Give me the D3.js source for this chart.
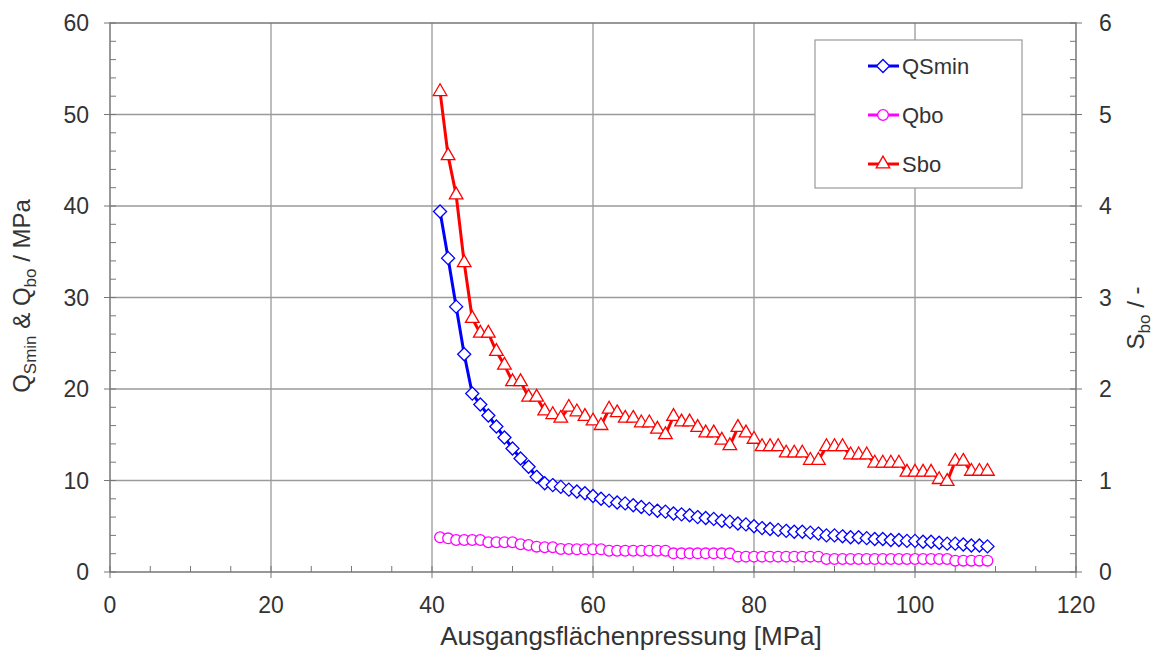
<!DOCTYPE html>
<html>
<head>
<meta charset="utf-8">
<script src="https://cdn.jsdelivr.net/npm/d3@7"></script>
<style>
  body { margin: 0; background: #fff; }
  text { font-family: "Liberation Sans", Arial, sans-serif; fill: #333; }
</style>
</head>
<body>
<div id="chart"></div>
<script>
let width = 1160,
  height = 653,
  margin = { left: 110, right: 84, top: 23, bottom: 81 }

// x values: Ausgangsflächenpressung in MPa
let pressure = d3.range(41, 110)

let qsmin = [39.4, 34.3, 29.0, 23.8, 19.5, 18.3, 17.1, 15.9, 14.7, 13.5,
  12.4, 11.5, 10.4, 9.7, 9.5, 9.3, 9.0, 8.8, 8.6, 8.3,
  8.0, 7.8, 7.6, 7.5, 7.3, 7.1, 6.9, 6.7, 6.6, 6.4,
  6.3, 6.2, 6.0, 5.9, 5.8, 5.6, 5.5, 5.3, 5.2, 5.0,
  4.8, 4.7, 4.6, 4.5, 4.4, 4.4, 4.3, 4.2, 4.0, 4.0,
  3.9, 3.8, 3.8, 3.7, 3.6, 3.6, 3.5, 3.5, 3.4, 3.4,
  3.3, 3.3, 3.2, 3.1, 3.1, 3.0, 2.9, 2.9, 2.8]

let qbo = [3.79, 3.68, 3.5, 3.5, 3.5, 3.5, 3.25, 3.25, 3.25, 3.25,
  3.03, 2.95, 2.77, 2.7, 2.7, 2.51, 2.51, 2.48, 2.48, 2.48,
  2.48, 2.33, 2.33, 2.33, 2.33, 2.33, 2.33, 2.33, 2.33, 2.04,
  2.04, 2.04, 2.04, 2.04, 2.04, 2.04, 2.04, 1.68, 1.68, 1.68,
  1.68, 1.68, 1.68, 1.68, 1.68, 1.68, 1.68, 1.68, 1.42, 1.42,
  1.42, 1.42, 1.42, 1.42, 1.42, 1.42, 1.42, 1.42, 1.42, 1.42,
  1.42, 1.42, 1.42, 1.42, 1.24, 1.24, 1.24, 1.24, 1.24]

let sbo = [5.25, 4.55, 4.12, 3.38, 2.77, 2.61, 2.61, 2.41, 2.26, 2.08,
  2.08, 1.91, 1.91, 1.76, 1.72, 1.68, 1.80, 1.75, 1.70, 1.65,
  1.60, 1.78, 1.74, 1.68, 1.68, 1.63, 1.63, 1.56, 1.50, 1.70,
  1.64, 1.64, 1.58, 1.52, 1.52, 1.44, 1.38, 1.58, 1.52, 1.45,
  1.37, 1.37, 1.37, 1.30, 1.30, 1.30, 1.22, 1.22, 1.37, 1.37,
  1.37, 1.28, 1.28, 1.28, 1.19, 1.19, 1.19, 1.19, 1.09, 1.09,
  1.09, 1.09, 1.01, 0.99, 1.21, 1.21, 1.10, 1.10, 1.10]

let xTicks = [0, 20, 40, 60, 80, 100, 120]
let yTicks = [0, 10, 20, 30, 40, 50, 60]
let y2Ticks = [0, 1, 2, 3, 4, 5, 6]

let svg = d3.select('#chart').append('svg')
  .attr('width', width)
  .attr('height', height)

let x = d3.scaleLinear().domain([0, 120]).range([margin.left, width - margin.right])
let y = d3.scaleLinear().domain([0, 60]).range([height - margin.bottom, margin.top])
let y2 = d3.scaleLinear().domain([0, 6]).range([height - margin.bottom, margin.top])

let x0 = x.range()[0], x1 = x.range()[1], yb = y.range()[0], yt = y.range()[1]

// grid
svg.append('g').selectAll('line')
  .data(xTicks.slice(1, -1))
  .enter().append('line')
  .attr('x1', d => x(d)).attr('x2', d => x(d))
  .attr('y1', yt).attr('y2', yb)
  .attr('stroke', '#9a9a9a').attr('stroke-width', 1.3)

svg.append('g').selectAll('line')
  .data(yTicks.slice(1, -1))
  .enter().append('line')
  .attr('x1', x0).attr('x2', x1)
  .attr('y1', d => y(d)).attr('y2', d => y(d))
  .attr('stroke', '#9a9a9a').attr('stroke-width', 1.3)

// minor ticks (inward), major ones cross the frame
let tickColor = '#777'
svg.append('g').selectAll('line')
  .data(d3.range(0, 121, 5))
  .enter().append('line')
  .attr('x1', d => x(d)).attr('x2', d => x(d))
  .attr('y1', yb - 6).attr('y2', d => d % 20 === 0 ? yb + 6 : yb)
  .attr('stroke', tickColor).attr('stroke-width', 1)

svg.append('g').selectAll('line')
  .data(d3.range(0, 61, 2))
  .enter().append('line')
  .attr('x1', d => d % 10 === 0 ? x0 - 6 : x0).attr('x2', x0 + 6)
  .attr('y1', d => y(d)).attr('y2', d => y(d))
  .attr('stroke', tickColor).attr('stroke-width', 1)

svg.append('g').selectAll('line')
  .data(d3.range(0, 31).map(d => d / 5))
  .enter().append('line')
  .attr('x1', x1 - 6).attr('x2', d => Math.abs(d - Math.round(d)) < 1e-9 ? x1 + 6 : x1)
  .attr('y1', d => y2(d)).attr('y2', d => y2(d))
  .attr('stroke', tickColor).attr('stroke-width', 1)

// frame
svg.append('rect')
  .attr('x', x0).attr('y', yt)
  .attr('width', x1 - x0).attr('height', yb - yt)
  .attr('fill', 'none').attr('stroke', '#777').attr('stroke-width', 1.5)

// tick labels
svg.append('g').selectAll('text')
  .data(xTicks).enter().append('text')
  .attr('x', d => x(d)).attr('y', yb + 41)
  .attr('text-anchor', 'middle').attr('font-size', 23)
  .text(d => d)

svg.append('g').selectAll('text')
  .data(yTicks).enter().append('text')
  .attr('x', x0 - 21).attr('y', d => y(d) + 8)
  .attr('text-anchor', 'end').attr('font-size', 23)
  .text(d => d)

svg.append('g').selectAll('text')
  .data(y2Ticks).enter().append('text')
  .attr('x', x1 + 23).attr('y', d => y2(d) + 8)
  .attr('text-anchor', 'start').attr('font-size', 23)
  .text(d => d)

// axis titles
svg.append('text')
  .attr('x', 631).attr('y', 645)
  .attr('text-anchor', 'middle').attr('font-size', 26)
  .text('Ausgangsflächenpressung [MPa]')

let ly = svg.append('text')
  .attr('transform', 'translate(30,' + 296 + ') rotate(-90)')
  .attr('text-anchor', 'middle').attr('font-size', 24)
ly.append('tspan').text('Q')
ly.append('tspan').attr('font-size', 17).attr('dy', 6).text('Smin')
ly.append('tspan').attr('dy', -6).text(' & Q')
ly.append('tspan').attr('font-size', 17).attr('dy', 6).text('bo')
ly.append('tspan').attr('dy', -6).text(' / MPa')

let ry = svg.append('text')
  .attr('transform', 'translate(1144,' + 318 + ') rotate(-90)')
  .attr('text-anchor', 'middle').attr('font-size', 24)
ry.append('tspan').text('S')
ry.append('tspan').attr('font-size', 17).attr('dy', 6).text('bo')
ry.append('tspan').attr('dy', -6).text(' / -')

// series
let diamond = { draw: function (ctx, size) {
  let r = Math.sqrt(size / 2)
  ctx.moveTo(0, -r); ctx.lineTo(r, 0); ctx.lineTo(0, r); ctx.lineTo(-r, 0); ctx.closePath()
} }

let series = [
  { name: 'QSmin', values: qsmin, scale: y, color: '#0000ff', symbol: diamond, size: 85 },
  { name: 'Qbo', values: qbo, scale: y, color: '#ff00ff', symbol: d3.symbolCircle, size: 90 },
  { name: 'Sbo', values: sbo, scale: y2, color: '#ff0000', symbol: d3.symbolTriangle, size: 80 }
]

series.forEach(function (s) {
  let pts = pressure.map((p, i) => [p, s.values[i]])
  let line = d3.line().x(d => x(d[0])).y(d => s.scale(d[1]))
  svg.append('path')
    .attr('d', line(pts))
    .attr('fill', 'none')
    .attr('stroke', s.color)
    .attr('stroke-width', 3)
  svg.append('g').selectAll('path')
    .data(pts).enter().append('path')
    .attr('transform', d => 'translate(' + x(d[0]) + ',' + s.scale(d[1]) + ')')
    .attr('d', d3.symbol().type(s.symbol).size(s.size))
    .attr('fill', '#fff')
    .attr('stroke', s.color)
    .attr('stroke-width', 1.3)
})

// legend
let legend = svg.append('g')
legend.append('rect')
  .attr('x', 815).attr('y', 40)
  .attr('width', 207).attr('height', 148)
  .attr('fill', '#fff').attr('stroke', '#999').attr('stroke-width', 1.2)

series.forEach(function (s, i) {
  let ey = 66 + i * 49
  legend.append('line')
    .attr('x1', 868).attr('x2', 899)
    .attr('y1', ey).attr('y2', ey)
    .attr('stroke', s.color).attr('stroke-width', 3)
  legend.append('path')
    .attr('transform', 'translate(883,' + ey + ')')
    .attr('d', d3.symbol().type(s.symbol).size(s.size)())
    .attr('fill', '#fff').attr('stroke', s.color).attr('stroke-width', 1.3)
  legend.append('text')
    .attr('x', 902).attr('y', ey + 8)
    .attr('font-size', 22)
    .text(s.name)
})
</script>
</body>
</html>
